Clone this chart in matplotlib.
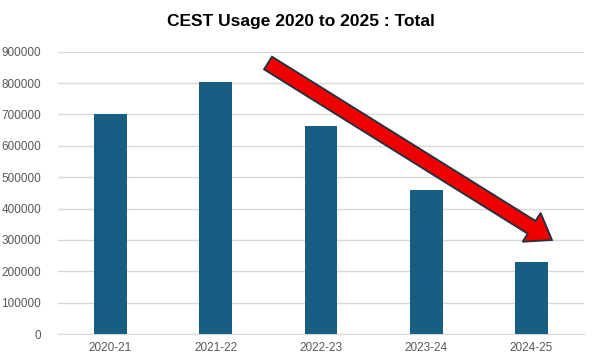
import matplotlib
matplotlib.use("Agg")
import matplotlib.pyplot as plt
import matplotlib.patches as mpatches
import numpy as np

# CEST usage per financial year
years = ["2020-21", "2021-22", "2022-23", "2023-24", "2024-25"]
usage = [702000, 804000, 663000, 460000, 229000]
yticks = [0, 100000, 200000, 300000, 400000, 500000, 600000, 700000, 800000, 900000]

plt.rcParams["font.family"] = ["Liberation Sans", "DejaVu Sans"]

fig = plt.figure(figsize=(5.96, 3.64), dpi=100)
ax = fig.add_axes([0.097, 0.082, 0.883, 0.776])

x = np.arange(len(years))
ax.bar(x, usage, width=0.31, color="#175f82", zorder=3)

ax.set_xlim(-0.5, len(years) - 0.5)
ax.set_ylim(0, 900000)
ax.set_yticks(yticks)
ax.set_yticklabels([str(v) for v in yticks])
ax.set_xticks(x)
ax.set_xticklabels(years)
ax.tick_params(axis="both", length=0, colors="#595959", labelsize=8.5)
ax.tick_params(axis="y", pad=12)
ax.tick_params(axis="x", pad=6)
ax.grid(axis="y", color="#d9d9d9", linewidth=1, zorder=0)
for s in ["top", "right", "left"]:
    ax.spines[s].set_visible(False)
ax.spines["bottom"].set_color("#d9d9d9")

fig.suptitle("CEST Usage 2020 to 2025 : Total", fontsize=12.5, fontweight="bold",
             x=0.505, y=0.94, va="center")

# big red downward-trend arrow (in inches on the figure)
arrow = mpatches.FancyArrow(2.68, 3.01, 2.84, -1.77, width=0.15, head_width=0.34,
                            head_length=0.24, length_includes_head=True,
                            facecolor="#ee0000", edgecolor="#1c3341", linewidth=1.3,
                            transform=fig.dpi_scale_trans, zorder=5)
fig.patches.append(arrow)

fig.savefig("out.png", dpi=100)
